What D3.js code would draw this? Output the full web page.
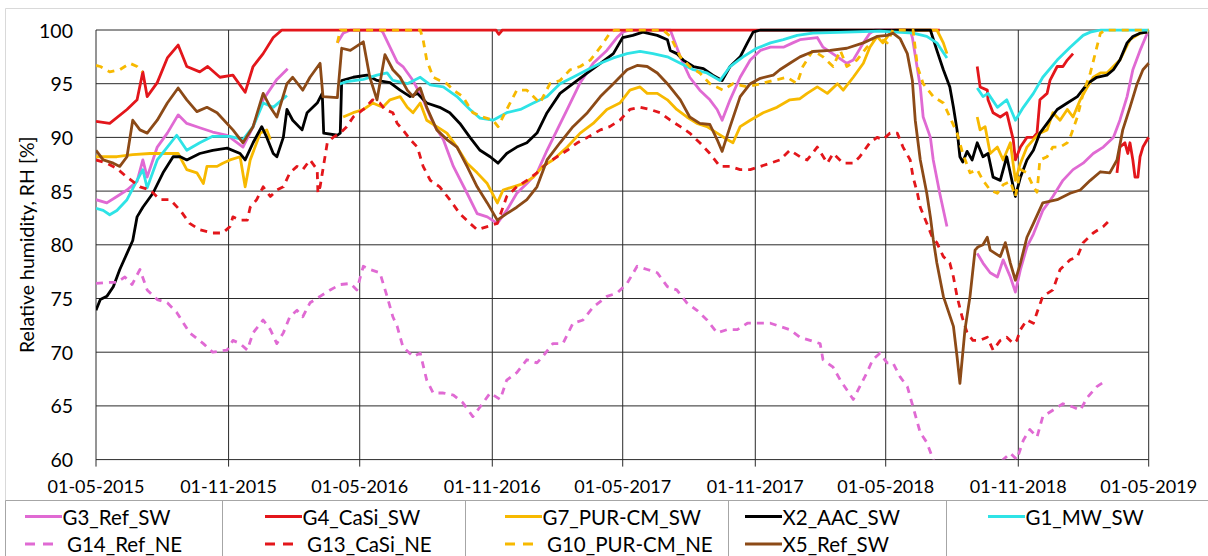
<!DOCTYPE html>
<html>
<head>
<meta charset="utf-8">
<script src="https://cdn.jsdelivr.net/npm/d3@7"></script>
<style>
  html, body { margin: 0; padding: 0; background: #fff; }
  svg { display: block; font-family: Lato, "Open Sans", sans-serif; }
</style>
</head>
<body>
<svg id="chart" width="1208" height="556"></svg>
<script>
// Relative humidity logged in the wall constructions, 01-05-2015 .. 01-05-2019.
// Each series: [day since 01-05-2015, RH %]; a null RH marks a gap in the logging.
const startDate = "2015-05-01";
const endDate = "2019-05-01";

const tickDates = ["2015-05-01","2015-11-01","2016-05-01","2016-11-01","2017-05-01",
                   "2017-11-01","2018-05-01","2018-11-01","2019-05-01"];
const tickLabels = ["01-05-2015","01-11-2015","01-05-2016","01-11-2016","01-05-2017",
                    "01-11-2017","01-05-2018","01-11-2018","01-05-2019"];
const rhTicks = [60, 65, 70, 75, 80, 85, 90, 95, 100];

const g3RefSW = [[0,84.2],[15,83.9],[29,84.5],[43,85.1],[57,85.9],[65,87.9],[71,86.3],[85,89.1],[99,90.4],[114,92.1],[126,91.3],[144,90.9],[162,90.5],[182,90.2],[204,89.1],[218,91.0],[232,93.5],[251,95.4],[266,96.4],[300,null],
  [335,98.8],[343,99.7],[353,100],[394,100],[398,99.8],[408,98.4],[418,97.0],[426,96.6],[440,95.3],[454,93.5],[468,91.3],[482,89.8],[496,87.3],[515,84.8],[529,82.9],[543,82.6],[557,82.0],[570,83.2],[584,84.8],[598,85.7],[612,86.7],[626,88.8],[640,90.7],[654,92.6],[672,95.1],[690,96.9],[709,98.1],[723,99.3],[731,99.8],[741,100],[797,100],[811,97.5],[824,95.6],[838,94.4],[852,93.5],[862,92.6],[869,91.6],[880,93.5],[894,95.6],[908,97.2],[922,98.1],[936,98.4],[954,98.4],[967,98.8],[977,99.1],[1001,99.3],[1009,98.4],[1029,97.5],[1042,96.9],[1051,97.2],[1065,98.8],[1074,99.7],[1081,100],[1130,100],[1133,99.3],[1144,94.7],[1148,91.9],[1158,90.0],[1162,87.9],[1171,84.8],[1181,81.7],[1200,null],
  [1223,79.2],[1231,78.3],[1241,77.4],[1251,77.0],[1259,78.6],[1269,77.0],[1276,75.6],[1283,77.7],[1292,79.8],[1301,81.0],[1314,83.2],[1328,84.5],[1342,86.0],[1356,87.0],[1370,87.6],[1384,88.5],[1398,89.1],[1412,90.0],[1421,91.6],[1431,93.8],[1439,96.3],[1449,98.1],[1459,99.7]];

const g4CaSiSW = [[0,91.5],[19,91.3],[43,92.6],[57,93.5],[65,96.1],[71,93.8],[85,95.1],[99,97.4],[114,98.6],[126,96.6],[144,96.1],[155,96.6],[172,95.6],[190,95.8],[207,94.2],[218,96.6],[232,97.8],[246,99.3],[258,100],[555,100],[559,99.6],[564,100],[1171,100],[1200,null],
  [1223,96.6],[1227,94.7],[1237,94.4],[1238,93.5],[1245,92.3],[1255,91.9],[1264,92.3],[1273,89.8],[1276,87.9],[1283,89.1],[1292,90.0],[1301,90.0],[1306,90.4],[1310,93.5],[1320,94.1],[1324,95.3],[1334,96.6],[1342,96.6],[1348,97.2],[1356,97.8],[1390,null],
  [1417,86.7],[1421,89.1],[1428,89.5],[1432,88.5],[1435,89.5],[1439,87.9],[1442,86.3],[1446,86.3],[1449,88.2],[1453,89.1],[1459,89.8],[1461,90.0]];

const g7PurCmSW = [[0,88.2],[29,88.2],[51,88.4],[75,88.5],[99,88.5],[114,88.5],[126,87.0],[140,86.7],[149,85.7],[154,87.3],[168,87.3],[176,87.6],[186,87.9],[200,88.2],[207,85.4],[214,87.9],[228,90.4],[237,90.7],[242,89.8],[290,null],
  [343,91.9],[357,92.3],[371,92.6],[384,93.2],[398,92.8],[408,93.5],[422,93.8],[432,92.8],[440,92.3],[450,93.2],[459,91.6],[473,91.0],[487,90.4],[501,89.1],[515,87.6],[529,86.7],[543,85.7],[557,83.9],[565,85.1],[579,85.4],[593,85.7],[607,86.3],[620,87.3],[634,87.9],[654,89.1],[672,90.4],[690,91.3],[709,92.6],[727,93.2],[741,94.4],[755,94.7],[765,94.1],[779,94.1],[793,93.5],[806,92.6],[820,91.9],[834,91.3],[848,91.0],[862,90.4],[876,89.8],[884,89.5],[894,91.0],[908,91.6],[926,92.3],[945,92.8],[963,93.5],[977,93.6],[987,94.1],[1001,94.7],[1015,94.1],[1029,95.0],[1037,94.4],[1051,95.6],[1065,96.9],[1074,98.4],[1084,99.4],[1092,98.8],[1102,99.7],[1109,100],[1167,100],[1176,98.8],[1181,97.8],[1200,null],
  [1223,91.9],[1227,90.7],[1234,91.0],[1241,88.5],[1251,89.1],[1259,87.9],[1269,89.5],[1276,86.0],[1283,87.6],[1292,89.1],[1301,89.8],[1310,90.4],[1320,90.7],[1328,92.3],[1338,91.6],[1348,92.6],[1356,91.9],[1366,93.5],[1376,94.7],[1384,95.6],[1394,96.0],[1403,96.0],[1421,97.2],[1435,99.1],[1449,99.7],[1459,99.8]];

const x2AacSW = [[0,73.9],[6,74.9],[15,75.2],[24,76.1],[33,77.7],[43,79.2],[51,80.4],[57,82.6],[65,83.5],[79,84.8],[93,86.7],[107,88.2],[117,88.2],[126,87.9],[144,88.5],[162,88.8],[182,89.0],[200,88.5],[207,87.9],[218,89.5],[230,91.0],[237,90.0],[246,88.5],[251,88.2],[260,90.0],[265,92.6],[273,91.6],[286,90.7],[293,92.3],[307,93.2],[314,94.1],[316,90.4],[335,90.2],[339,90.4],[341,95.3],[357,95.6],[376,95.8],[390,95.3],[408,95.1],[422,94.4],[436,93.8],[446,94.1],[459,93.2],[477,92.8],[491,92.3],[505,91.3],[519,90.0],[533,88.8],[547,88.2],[558,87.6],[570,88.5],[584,89.1],[598,89.5],[612,90.4],[626,92.3],[644,94.1],[662,95.0],[682,96.0],[700,96.9],[718,97.8],[731,99.3],[745,99.5],[759,99.8],[779,99.5],[793,99.1],[797,98.1],[806,97.8],[815,97.2],[829,96.6],[843,96.4],[856,95.8],[869,95.3],[880,96.6],[894,97.5],[904,98.8],[912,99.8],[922,100],[1158,100],[1167,98.1],[1176,96.3],[1185,94.7],[1190,92.8],[1195,90.7],[1199,88.2],[1203,87.7],[1209,88.7],[1216,87.9],[1223,89.5],[1231,88.2],[1238,88.5],[1245,86.3],[1255,86.0],[1264,88.2],[1273,85.4],[1276,84.5],[1283,86.3],[1292,87.9],[1301,88.8],[1310,90.4],[1320,91.3],[1334,92.6],[1348,93.2],[1362,93.8],[1376,95.0],[1389,95.6],[1403,95.8],[1412,96.3],[1421,97.2],[1431,98.8],[1439,99.4],[1449,99.7],[1459,99.8]];

const g1MwSW = [[0,83.4],[10,83.2],[19,82.8],[29,83.2],[43,84.2],[57,86.0],[65,87.0],[71,85.3],[85,87.9],[99,89.1],[112,90.2],[126,88.8],[144,89.5],[162,90.1],[186,90.1],[204,89.8],[218,91.0],[232,93.2],[246,92.8],[265,93.9],[300,null],
  [335,94.9],[348,95.2],[371,95.4],[390,95.8],[404,96.0],[412,95.3],[432,95.0],[450,95.6],[464,94.9],[482,94.7],[501,93.8],[519,92.6],[533,91.8],[551,91.6],[570,92.3],[589,92.6],[607,93.2],[626,93.8],[644,95.0],[662,95.6],[682,96.3],[700,96.9],[718,97.4],[737,97.8],[755,98.0],[773,97.8],[793,97.5],[811,96.9],[829,96.3],[848,96.0],[866,95.3],[880,96.6],[898,97.5],[917,98.3],[936,98.8],[954,99.1],[973,99.5],[995,99.7],[1088,99.9],[1134,99.7],[1153,99.4],[1167,98.8],[1181,97.4],[1200,null],
  [1223,94.6],[1231,93.8],[1238,94.1],[1251,92.8],[1264,93.5],[1276,91.6],[1287,92.8],[1301,94.1],[1314,95.6],[1334,97.2],[1352,98.4],[1370,99.5],[1380,99.8],[1394,100],[1461,100]];

const g14RefNE = [[0,76.4],[15,76.5],[29,76.5],[40,77.0],[50,76.3],[61,77.7],[71,75.8],[85,74.9],[99,74.6],[112,73.7],[130,71.8],[149,70.8],[162,70.0],[182,70.2],[190,71.1],[200,70.8],[210,70.2],[218,71.8],[232,73.0],[242,72.1],[251,70.8],[260,71.8],[269,73.3],[279,73.9],[287,73.3],[297,74.6],[311,75.2],[325,75.8],[339,76.3],[353,76.4],[362,75.8],[371,78.0],[380,77.7],[394,77.4],[404,75.2],[412,73.3],[418,72.4],[426,70.5],[440,69.6],[450,69.9],[459,67.4],[468,66.2],[482,66.2],[496,66.0],[509,65.3],[523,64.0],[533,64.9],[547,66.2],[561,65.6],[570,67.4],[584,68.1],[598,69.3],[612,69.0],[620,69.6],[634,70.8],[648,70.8],[662,72.7],[676,73.0],[690,74.2],[709,75.2],[723,75.5],[737,76.4],[751,78.0],[765,77.7],[779,77.4],[793,76.1],[806,75.8],[820,74.6],[834,73.9],[848,73.0],[862,71.8],[876,72.1],[890,72.1],[904,72.7],[922,72.7],[936,72.7],[949,72.4],[963,72.1],[977,71.4],[991,71.1],[1005,70.8],[1009,69.3],[1023,68.6],[1033,67.4],[1042,66.5],[1051,65.6],[1060,66.8],[1070,68.1],[1078,69.3],[1088,69.9],[1098,69.0],[1106,69.0],[1116,67.7],[1126,66.8],[1134,64.9],[1144,62.5],[1153,61.6],[1162,60.0],[1178,58.5],[1213,57.5],[1248,58.5],[1259,60.0],[1269,60.6],[1278,60.0],[1287,61.8],[1296,62.8],[1306,62.1],[1314,64.0],[1328,64.6],[1342,65.2],[1356,64.9],[1366,64.6],[1376,65.8],[1389,66.8],[1403,67.4]];

const g13CaSiNE = [[0,87.9],[15,87.6],[29,87.1],[43,86.3],[61,85.4],[75,85.1],[89,84.2],[103,84.2],[117,83.2],[130,82.0],[144,81.4],[162,81.1],[176,81.1],[186,81.7],[190,82.6],[200,82.3],[210,82.3],[214,83.5],[223,84.2],[232,85.4],[242,84.5],[251,85.1],[260,85.4],[269,86.7],[279,87.3],[287,87.0],[297,87.9],[307,87.0],[308,84.8],[311,85.4],[321,89.5],[329,90.0],[339,90.4],[348,91.0],[357,91.9],[371,92.6],[384,93.5],[394,93.2],[401,92.6],[412,92.3],[418,91.3],[426,90.7],[436,89.8],[446,89.1],[454,87.3],[464,86.0],[477,85.4],[491,84.2],[505,82.9],[519,82.0],[529,81.4],[543,81.7],[557,82.0],[570,84.5],[584,85.4],[598,86.0],[612,86.7],[626,87.6],[640,88.2],[654,88.8],[668,89.5],[682,90.0],[700,90.7],[713,91.0],[727,91.6],[741,92.6],[755,92.8],[769,92.6],[783,92.3],[797,91.6],[811,91.0],[824,90.4],[838,89.5],[852,88.5],[866,87.3],[880,87.3],[894,87.0],[908,87.0],[922,87.3],[936,87.6],[949,87.9],[963,88.8],[977,88.2],[987,87.9],[1001,89.1],[1015,87.6],[1023,88.5],[1037,87.6],[1051,87.6],[1060,88.2],[1074,89.5],[1084,90.0],[1092,89.8],[1102,90.4],[1112,90.4],[1120,89.1],[1130,87.9],[1134,86.3],[1140,84.8],[1144,83.5],[1153,82.0],[1162,80.5],[1167,80.2],[1176,78.9],[1185,78.3],[1190,77.0],[1195,75.2],[1202,73.3],[1209,71.8],[1217,71.1],[1227,71.1],[1237,71.4],[1245,70.2],[1255,71.1],[1264,71.4],[1273,70.8],[1278,71.1],[1283,72.1],[1292,73.0],[1301,72.7],[1306,73.7],[1314,75.2],[1328,75.8],[1338,77.7],[1352,78.6],[1362,78.9],[1370,80.2],[1384,81.1],[1398,81.7],[1407,82.3]];

const g10PurCmNE = [[0,96.7],[6,96.6],[19,96.1],[33,96.3],[47,96.9],[57,96.6],[64,96.1],[100,null],
  [335,98.8],[339,100],[450,100],[454,99.1],[459,97.2],[468,95.6],[477,95.3],[487,95.0],[496,94.4],[509,93.8],[523,92.3],[537,91.9],[551,91.6],[558,91.0],[570,92.6],[584,94.4],[598,94.4],[616,93.2],[630,95.0],[644,95.3],[658,96.3],[672,96.6],[686,97.2],[700,98.4],[713,99.7],[720,100],[787,100],[797,99.4],[811,97.5],[824,96.6],[838,96.0],[852,95.0],[870,94.4],[884,95.0],[904,94.7],[922,95.0],[940,95.3],[959,95.6],[973,95.0],[981,96.6],[995,98.1],[1009,97.5],[1023,96.6],[1033,98.1],[1042,96.6],[1056,97.2],[1070,98.4],[1084,99.4],[1098,98.8],[1106,100],[1134,100],[1140,96.6],[1148,95.0],[1162,93.8],[1176,93.2],[1185,91.9],[1195,90.4],[1203,88.5],[1213,86.7],[1223,87.0],[1231,86.0],[1241,85.1],[1251,84.8],[1259,85.6],[1269,85.9],[1276,84.5],[1283,87.0],[1292,86.7],[1301,85.4],[1306,84.9],[1310,87.9],[1320,88.2],[1328,89.1],[1338,89.1],[1348,89.5],[1352,90.0],[1362,91.9],[1370,94.1],[1380,96.0],[1389,98.4],[1394,99.7],[1401,100],[1461,100]];

const x5RefSW = [[0,88.8],[10,87.9],[24,87.6],[33,87.3],[43,88.2],[51,91.6],[61,90.7],[71,90.4],[85,91.6],[99,93.2],[114,94.6],[126,93.5],[140,92.4],[154,92.8],[168,92.3],[190,90.7],[204,89.5],[218,91.0],[232,94.1],[242,92.8],[251,91.9],[265,95.0],[273,95.6],[287,94.4],[297,95.6],[311,96.9],[315,93.8],[335,93.7],[341,98.3],[353,98.1],[371,98.9],[380,95.6],[390,93.5],[401,97.7],[412,96.3],[422,95.6],[432,94.4],[440,93.8],[446,94.4],[450,94.6],[459,92.8],[473,90.7],[487,89.8],[501,89.1],[515,87.3],[529,85.4],[543,83.9],[557,82.3],[570,82.9],[584,83.5],[598,84.2],[612,85.4],[626,87.9],[644,89.5],[662,91.0],[682,92.3],[700,93.8],[718,95.0],[737,96.3],[751,96.7],[765,96.6],[779,96.0],[793,95.0],[811,93.5],[824,91.9],[838,91.3],[852,91.2],[862,89.8],[869,88.7],[880,91.0],[894,93.8],[908,95.0],[922,95.5],[940,95.8],[949,96.3],[963,96.9],[977,97.5],[995,98.0],[1019,98.1],[1042,98.3],[1065,98.8],[1084,99.4],[1098,99.5],[1106,99.7],[1116,99.2],[1126,97.8],[1133,95.3],[1137,91.6],[1144,87.9],[1153,84.8],[1158,82.6],[1162,80.5],[1167,78.3],[1176,75.2],[1190,72.4],[1195,69.6],[1199,67.1],[1206,72.1],[1213,75.2],[1220,79.5],[1224,79.8],[1231,80.0],[1237,80.7],[1241,79.5],[1255,78.9],[1262,80.2],[1269,78.3],[1276,76.7],[1283,78.3],[1292,80.7],[1301,82.0],[1314,83.9],[1334,84.2],[1352,84.8],[1366,85.1],[1380,86.0],[1394,86.8],[1407,86.7],[1417,87.9],[1425,90.7],[1435,92.8],[1445,95.0],[1453,96.3],[1461,96.9]];

// Series in drawing order (later ones sit on top)
const series = [
  { name: "G3_Ref_SW",     data: g3RefSW,    color: "#E06AD3", dashed: false },
  { name: "G4_CaSi_SW",    data: g4CaSiSW,   color: "#E3161B", dashed: false },
  { name: "G7_PUR-CM_SW",  data: g7PurCmSW,  color: "#F7B900", dashed: false },
  { name: "X2_AAC_SW",     data: x2AacSW,    color: "#000000", dashed: false },
  { name: "G1_MW_SW",      data: g1MwSW,     color: "#2EE3E6", dashed: false },
  { name: "G14_Ref_NE",    data: g14RefNE,   color: "#E06AD3", dashed: true },
  { name: "G13_CaSi_NE",   data: g13CaSiNE,  color: "#E3161B", dashed: true },
  { name: "G10_PUR-CM_NE", data: g10PurCmNE, color: "#F7B900", dashed: true },
  { name: "X5_Ref_SW",     data: x5RefSW,    color: "#8C4A17", dashed: false }
];

const W = 1208, H = 556;
const plot = { left: 96, right: 1148.7, top: 30, bottom: 459.6 };
const parse = d3.timeParse("%Y-%m-%d");
const t0 = parse(startDate), t1 = parse(endDate);

const x = d3.scaleTime().domain([t0, t1]).range([plot.left, plot.right]);
const y = d3.scaleLinear().domain([60, 100]).range([plot.bottom, plot.top]);

const svg = d3.select("#chart");
svg.append("rect").attr("width", W).attr("height", H).attr("fill", "#fff");

// outer chart frame
svg.append("path")
  .attr("d", `M5.5,${H} V8.5 H${W}`)
  .attr("fill", "none").attr("stroke", "#D9D9D9").attr("stroke-width", 1);

// horizontal gridlines
svg.append("g").selectAll("line").data(rhTicks).join("line")
  .attr("x1", plot.left).attr("x2", plot.right)
  .attr("y1", d => y(d)).attr("y2", d => y(d))
  .attr("stroke", "#2a2a2a").attr("stroke-width", 1);

// vertical gridlines + tick marks below the axis
const tickDateObjs = tickDates.map(parse);
svg.append("g").selectAll("line").data(tickDateObjs).join("line")
  .attr("x1", d => x(d)).attr("x2", d => x(d))
  .attr("y1", plot.top).attr("y2", plot.bottom + 7)
  .attr("stroke", "#2a2a2a").attr("stroke-width", 1);

// y tick labels
svg.append("g").selectAll("text").data(rhTicks).join("text")
  .attr("x", 73).attr("y", d => y(d))
  .attr("text-anchor", "end").attr("dominant-baseline", "central")
  .attr("font-size", 19.5).attr("fill", "#000")
  .text(d => d);

// x tick labels
svg.append("g").selectAll("text").data(tickDateObjs).join("text")
  .attr("x", d => x(d)).attr("y", 486)
  .attr("text-anchor", "middle").attr("dominant-baseline", "central")
  .attr("font-size", 18).attr("fill", "#000")
  .text((d, i) => tickLabels[i]);

// y axis title
svg.append("text")
  .attr("transform", `translate(26,${(plot.top + plot.bottom) / 2}) rotate(-90)`)
  .attr("text-anchor", "middle").attr("dominant-baseline", "central")
  .attr("font-size", 19.5).attr("fill", "#000")
  .text("Relative humidity, RH [%]");

// series lines, clipped to the plot area
svg.append("clipPath").attr("id", "plotClip")
  .append("rect")
  .attr("x", plot.left).attr("y", plot.top - 1.5)
  .attr("width", plot.right - plot.left + 1.5)
  .attr("height", plot.bottom - plot.top + 1.5);

const line = d3.line()
  .defined(d => d[1] !== null)
  .x(d => x(d3.timeDay.offset(t0, d[0])))
  .y(d => y(d[1]));

const lines = svg.append("g").attr("clip-path", "url(#plotClip)");
series.forEach(s => {
  lines.append("path")
    .datum(s.data)
    .attr("d", line)
    .attr("fill", "none")
    .attr("stroke", s.color)
    .attr("stroke-width", 2.8)
    .attr("stroke-linejoin", "round")
    .attr("stroke-dasharray", s.dashed ? "7,6" : null);
});

// legend table
const legendTop = 500.5;
const colEdges = [5.5, 222.5, 465.5, 728.5, 946.5];
const legendG = svg.append("g");
legendG.append("line").attr("x1", 5.5).attr("x2", W).attr("y1", legendTop).attr("y2", legendTop)
  .attr("stroke", "#A6A6A6");
legendG.selectAll("line.col").data(colEdges).join("line").attr("class", "col")
  .attr("x1", d => d).attr("x2", d => d).attr("y1", legendTop).attr("y2", H)
  .attr("stroke", "#A6A6A6");

const legendItems = [
  { s: "G3_Ref_SW",     x: 25,  row: 0 },
  { s: "G4_CaSi_SW",    x: 265, row: 0 },
  { s: "G7_PUR-CM_SW",  x: 505, row: 0 },
  { s: "X2_AAC_SW",     x: 745, row: 0 },
  { s: "G1_MW_SW",      x: 988, row: 0 },
  { s: "G14_Ref_NE",    x: 25,  row: 1 },
  { s: "G13_CaSi_NE",   x: 265, row: 1 },
  { s: "G10_PUR-CM_NE", x: 505, row: 1 },
  { s: "X5_Ref_SW",     x: 745, row: 1 }
];
const rowY = [516.5, 544];
legendItems.forEach(it => {
  const s = series.find(d => d.name === it.s);
  const yy = rowY[it.row];
  legendG.append("line")
    .attr("x1", it.x).attr("x2", it.x + (s.dashed ? 28 : 37))
    .attr("y1", yy).attr("y2", yy)
    .attr("stroke", s.color).attr("stroke-width", 2.8)
    .attr("stroke-dasharray", s.dashed ? "10,8" : null);
  legendG.append("text")
    .attr("x", it.x + (s.dashed ? 42 : 37.5)).attr("y", yy)
    .attr("dominant-baseline", "central")
    .attr("font-size", 20.5).attr("fill", "#000")
    .text(s.name);
});
</script>
</body>
</html>
